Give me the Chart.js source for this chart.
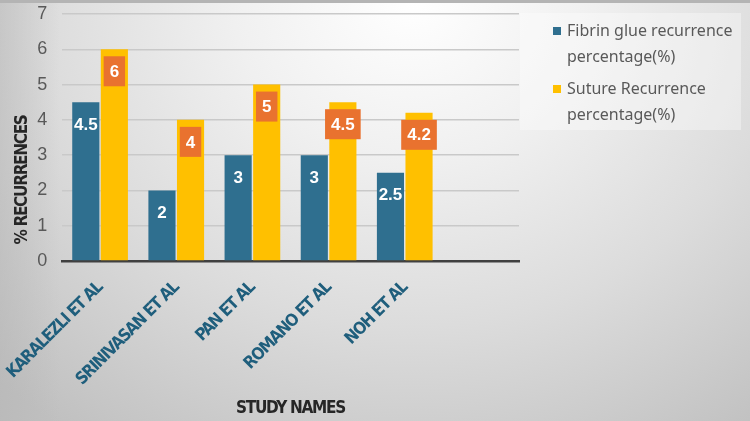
<!DOCTYPE html>
<html>
<head>
<meta charset="utf-8">
<script src="https://cdn.jsdelivr.net/npm/chart.js@4.4.1/dist/chart.umd.min.js"></script>
<style>
  html, body { margin: 0; padding: 0; }
  body {
    width: 750px; height: 421px; overflow: hidden;
    background:
      linear-gradient(to right, rgba(180,180,180,0.45) 0px, rgba(180,180,180,0) 60px),
      radial-gradient(ellipse 80% 125% at 55% 0%, #ffffff 0%, #f0f0f0 30%, #dcdcdc 62%, #c0c0c0 100%);
    box-shadow: inset 0 3px 0 #b4b4b4;
  }
  #wrap { position: absolute; left: 0; top: 0; width: 750px; height: 421px; }
</style>
</head>
<body>
<div id="wrap"><canvas id="chart" width="750" height="421"></canvas></div>
<script>
// study names on the x axis (last slot is an empty category, as in the original)
var studies = ["KARALEZLI ET AL", "SRINIVASAN ET AL", "PAN ET AL", "ROMANO ET AL", "NOH ET AL", ""];
var fibrinGlue = [4.5, 2, 3, 3, 2.5, null];
var suture = [6, 4, 5, 4.5, 4.2, null];
var seriesNames = [["Fibrin glue recurrence", "percentage(%)"], ["Suture Recurrence", "percentage(%)"]];
var yTicks = [0, 1, 2, 3, 4, 5, 6, 7];
var yTitle = '% RECURRENCES';

var blue = '#2F6F8F';
var yellow = '#FFC000';
var orange = '#E9722F';
var narrow = '"Liberation Sans Narrow", "DejaVu Sans Condensed", sans-serif';

// tight letters for the axis texts only
var tightAxes = {
    id: 'tightAxes',
    beforeDraw: function (chart) { chart.ctx.letterSpacing = '-1.3px'; },
    beforeDatasetsDraw: function (chart) { chart.ctx.letterSpacing = '0px'; }
};

// y title sits lower than the middle of the axis in the original, so draw it here
var yTitlePlugin = {
    id: 'yTitlePlugin',
    afterDraw: function (chart) {
        var ctx = chart.ctx;
        ctx.save();
        ctx.letterSpacing = '-1.3px';
        ctx.translate(23, 180);
        ctx.rotate(-Math.PI / 2);
        ctx.font = 'bold 17px ' + narrow;
        ctx.fillStyle = '#262626';
        ctx.textAlign = 'center';
        ctx.textBaseline = 'middle';
        ctx.fillText(yTitle, 0, 0);
        ctx.restore();
    }
};

// value labels: white text on blue bars, orange boxes on yellow bars
var valueLabels = {
    id: 'valueLabels',
    afterDatasetsDraw: function (chart) {
        var ctx = chart.ctx;
        ctx.save();
        ctx.letterSpacing = '0px';
        ctx.font = 'bold 17px "Liberation Sans", Arial, sans-serif';
        ctx.textAlign = 'center';
        ctx.textBaseline = 'middle';
        chart.data.datasets.forEach(function (ds, di) {
            var meta = chart.getDatasetMeta(di);
            meta.data.forEach(function (bar, i) {
                var v = ds.data[i];
                if (v === null || v === undefined) return;
                var txt = String(v);
                var cy = bar.y + 22;
                if (di === 1) {
                    var w = ctx.measureText(txt).width + 12;
                    ctx.fillStyle = orange;
                    ctx.fillRect(bar.x - w / 2, cy - 15, w, 30);
                }
                ctx.fillStyle = '#ffffff';
                ctx.fillText(txt, bar.x, cy + 1);
            });
        });
        ctx.restore();
    }
};

// legend drawn by hand so each entry can wrap onto two lines
var sideLegend = {
    id: 'sideLegend',
    afterDraw: function (chart) {
        var ctx = chart.ctx;
        ctx.save();
        ctx.letterSpacing = '0px';
        ctx.fillStyle = 'rgba(255,255,255,0.35)';
        ctx.fillRect(520, 13, 221, 117);
        ctx.font = '16px "Noto Sans", sans-serif';
        ctx.textAlign = 'left';
        ctx.textBaseline = 'middle';
        var colors = [blue, yellow];
        var tops = [31, 89];
        seriesNames.forEach(function (lines, k) {
            ctx.fillStyle = colors[k];
            ctx.fillRect(553, tops[k] - 4, 8, 8);
            ctx.fillStyle = '#595959';
            lines.forEach(function (line, j) {
                ctx.fillText(line, 567, tops[k] + j * 26);
            });
        });
        ctx.restore();
    }
};

var chart = new Chart(document.getElementById('chart'), {
    type: 'bar',
    data: {
        labels: studies,
        datasets: [
            { label: seriesNames[0].join(' '), data: fibrinGlue, backgroundColor: blue,
              categoryPercentage: 0.75, barPercentage: 0.95 },
            { label: seriesNames[1].join(' '), data: suture, backgroundColor: yellow,
              categoryPercentage: 0.75, barPercentage: 0.95 }
        ]
    },
    options: {
        responsive: false,
        animation: false,
        layout: { padding: { left: 0, right: 231, top: 14, bottom: 0 } },
        plugins: {
            legend: { display: false },
            tooltip: { enabled: false }
        },
        scales: {
            x: {
                grid: { display: false, drawTicks: false },
                border: { display: true, color: '#404040', width: 2.5 },
                ticks: {
                    color: '#1F5E7C',
                    font: { family: narrow, weight: 'bold', size: 17 },
                    minRotation: 45, maxRotation: 45, padding: 17, autoSkip: false
                },
                title: {
                    display: true, text: 'STUDY NAMES', color: '#262626',
                    font: { family: narrow, weight: 'bold', size: 17 },
                    padding: { top: 4, bottom: 2 }
                },
                afterFit: function (scale) {
                    scale.height = 160;
                    scale.paddingLeft = 0;
                    scale.paddingRight = 0;
                }
            },
            y: {
                min: 0, max: 7,
                afterBuildTicks: function (scale) {
                    scale.ticks = yTicks.map(function (v) { return { value: v }; });
                },
                grid: { color: '#c9c9c9', lineWidth: 1.5, drawTicks: false },
                border: { display: false },
                ticks: {
                    color: '#595959', padding: 16,
                    font: { family: '"Liberation Sans", Arial, sans-serif', size: 18 }
                },
                afterFit: function (scale) {
                    scale.width = 62;
                    scale.paddingTop = 0;
                    scale.paddingBottom = 0;
                }
            }
        }
    },
    plugins: [tightAxes, yTitlePlugin, valueLabels, sideLegend]
});
</script>
</body>
</html>
